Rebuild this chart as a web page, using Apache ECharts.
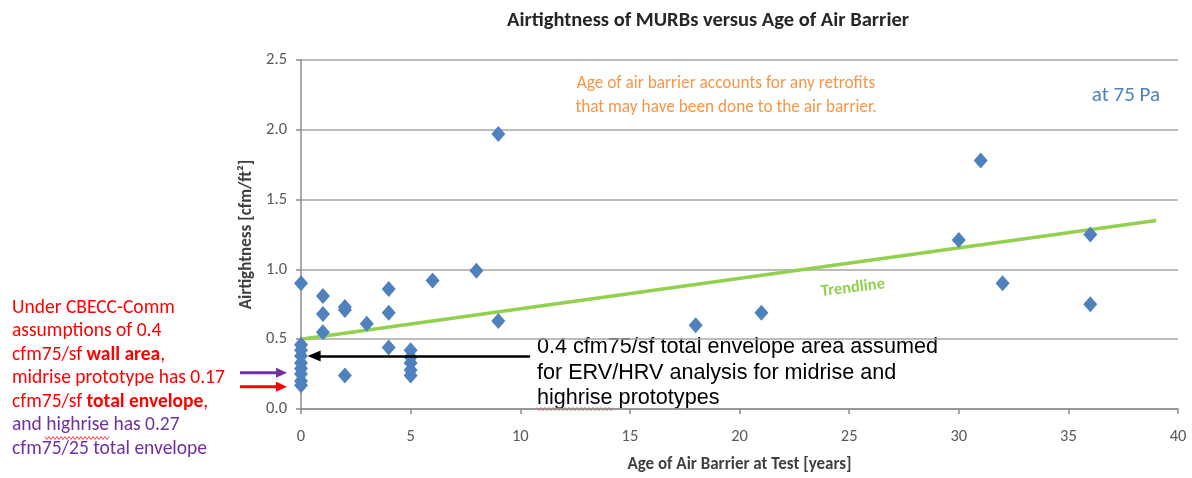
<!DOCTYPE html>
<html>
<head>
<meta charset="utf-8">
<script src="https://cdn.jsdelivr.net/npm/echarts@6/dist/echarts.min.js"></script>
<style>
  html, body { margin: 0; padding: 0; background: #fff; }
  #chart { width: 1192px; height: 478px; }
</style>
</head>
<body>
<div id="chart"></div>
<script>
// Age of air barrier at test [years] and measured airtightness [cfm/ft2] at 75 Pa
const ageYears = [
  0, 0, 0, 0, 0, 0, 0, 0, 0,
  1, 1, 1,
  2, 2, 2,
  3,
  4, 4, 4,
  5, 5, 5, 5, 5,
  6, 8, 9, 9,
  18, 21, 30, 31, 32, 36, 36
];
const airtightness = [
  0.90, 0.46, 0.42, 0.38, 0.33, 0.29, 0.25, 0.20, 0.17,
  0.81, 0.68, 0.55,
  0.73, 0.71, 0.24,
  0.61,
  0.86, 0.69, 0.44,
  0.42, 0.37, 0.33, 0.28, 0.24,
  0.92, 0.99, 1.97, 0.63,
  0.60, 0.69, 1.21, 1.78, 0.90, 1.25, 0.75
];

// linear trendline end points
const trendAge = [0, 39];
const trendValue = [0.50, 1.35];

// reference levels pointed at by the annotation arrows
const assumedEnvelope = 0.38;   // black arrow, ERV/HRV analysis
const highriseLevel = 0.26;     // purple arrow
const midriseLevel = 0.16;      // red arrow

const CALIBRI = "Carlito, Calibri, Lato, sans-serif";
const ARIAL = "'Liberation Sans', Arial, sans-serif";

const points = ageYears.map((a, i) => [a, airtightness[i]]);
const trend = trendAge.map((a, i) => [a, trendValue[i]]);

const chart = echarts.init(document.getElementById("chart"), null, { renderer: "canvas" });

const leftNote = [
  "{r|Under CBECC-Comm}",
  "{r|assumptions of 0.4}",
  "{r|cfm75/sf }{rb|wall area}{r|,}",
  "{r|midrise prototype has 0.17}",
  "{r|cfm75/sf }{rb|total envelope}{r|,}",
  "{p|and highrise has 0.27}",
  "{p|cfm75/25 total envelope}"
].join("\n");

const noteStyle = { fontFamily: CALIBRI, fontSize: 19.5, lineHeight: 23.5 };

// little spell-check squiggle under a word
function squiggle(id, x0, x1, y) {
  const pts = [];
  for (let x = x0, k = 0; x <= x1; x += 2, k++) pts.push([x, y + (k % 2 ? 1.5 : -1.5)]);
  return {
    type: "polyline", id: id, silent: true,
    shape: { points: pts },
    style: { stroke: "#ff4040", lineWidth: 1, fill: null }
  };
}

chart.setOption({
  animation: false,
  grid: { left: 301, right: 14, top: 60, bottom: 69 },
  xAxis: {
    type: "value",
    min: 0,
    max: 40,
    interval: 5,
    name: "Age of Air Barrier at Test [years]",
    nameLocation: "middle",
    nameGap: 47,
    nameTextStyle: { fontFamily: CALIBRI, fontSize: 17, fontWeight: "bold", color: "#404040" },
    axisLine: { show: true, lineStyle: { color: "#8c8c8c", width: 1.5 } },
    axisTick: { show: true, length: 5, lineStyle: { color: "#8c8c8c", width: 1.5 } },
    axisLabel: { margin: 19, fontFamily: CALIBRI, fontSize: 16.5, color: "#595959" },
    splitLine: { show: false }
  },
  yAxis: {
    type: "value",
    min: 0,
    max: 2.5,
    interval: 0.5,
    name: "Airtightness [cfm/ft\u00b2]",
    nameLocation: "middle",
    nameGap: 46,
    nameTextStyle: { fontFamily: CALIBRI, fontSize: 17, fontWeight: "bold", color: "#404040" },
    axisLine: { show: true, lineStyle: { color: "#8c8c8c", width: 1.5 } },
    axisTick: { show: true, length: 5, lineStyle: { color: "#8c8c8c", width: 1.5 } },
    axisLabel: {
      margin: 14,
      fontFamily: CALIBRI,
      fontSize: 16.5,
      color: "#595959",
      formatter: (v) => v.toFixed(1)
    },
    splitLine: { show: true, lineStyle: { color: "#a6a6a6", width: 1.5 } }
  },
  series: [
    {
      name: "Trendline",
      type: "line",
      data: trend,
      symbol: "none",
      lineStyle: { color: "#92d050", width: 3.5 },
      z: 2,
      markLine: {
        silent: true,
        symbol: ["none", "triangle"],
        symbolSize: [11, 13],
        label: { show: false },
        lineStyle: { color: "#000", width: 2.5, type: "solid" },
        data: [[{ coord: [10.45, assumedEnvelope] }, { coord: [0.6, assumedEnvelope] }]]
      }
    },
    {
      name: "Airtightness",
      type: "scatter",
      data: points,
      symbol: "diamond",
      symbolSize: [14, 16],
      itemStyle: { color: "#4f81bd", opacity: 1 },
      z: 3
    }
  ],
  graphic: [
    {
      type: "text", id: "title", x: 708, y: 21,
      style: {
        text: "Airtightness of MURBs versus Age of Air Barrier",
        fontFamily: CALIBRI, fontSize: 20.5, fontWeight: "bold", fill: "#262626",
        textAlign: "center", textVerticalAlign: "middle"
      }
    },
    {
      type: "text", id: "retrofitNote", x: 726, y: 96,
      style: {
        text: "Age of air barrier accounts for any retrofits\nthat may have been done to the air barrier.",
        fontFamily: CALIBRI, fontSize: 17.3, lineHeight: 24, fill: "#f79646",
        textAlign: "center", textVerticalAlign: "middle"
      }
    },
    {
      type: "text", id: "pressure", x: 1160, y: 96,
      style: {
        text: "at 75 Pa",
        fontFamily: CALIBRI, fontSize: 21, fill: "#4f81bd",
        textAlign: "right", textVerticalAlign: "middle"
      }
    },
    {
      type: "text", id: "trendLabel", x: 853, y: 288, rotation: 0.12,
      style: {
        text: "Trendline",
        fontFamily: CALIBRI, fontSize: 16.5, fontWeight: "bold", fill: "#92d050",
        textAlign: "center", textVerticalAlign: "middle"
      }
    },
    {
      type: "text", id: "ervNote", x: 537, y: 334,
      style: {
        text: "0.4 cfm75/sf total envelope area assumed\nfor ERV/HRV analysis for midrise and\nhighrise prototypes",
        fontFamily: ARIAL, fontSize: 21.6, lineHeight: 25.7, fill: "#000"
      }
    },
    {
      type: "text", id: "leftNote", x: 12, y: 296,
      style: {
        text: leftNote,
        rich: {
          r: Object.assign({ fill: "#ff0000" }, noteStyle),
          rb: Object.assign({ fill: "#ff0000", fontWeight: "bold" }, noteStyle),
          p: Object.assign({ fill: "#7030a0" }, noteStyle)
        }
      }
    },
    squiggle("sqLeft", 45, 109, 438),
    squiggle("sqErv", 537, 613, 409)
  ]
});

// arrows left of the y axis, placed from the axis scale
function sideArrow(id, level, color) {
  const p = chart.convertToPixel({ gridIndex: 0 }, [0, level]);
  const tipX = p[0] - 14;
  const startX = p[0] - 61;
  const y = p[1];
  return [
    {
      type: "line", id: id + "Shaft",
      shape: { x1: startX, y1: y, x2: tipX - 9, y2: y },
      style: { stroke: color, lineWidth: 3 }
    },
    {
      type: "polygon", id: id + "Head",
      shape: { points: [[tipX, y], [tipX - 11, y - 5], [tipX - 11, y + 5]] },
      style: { fill: color }
    }
  ];
}

chart.setOption({
  graphic: [].concat(
    sideArrow("purple", highriseLevel, "#7030a0"),
    sideArrow("red", midriseLevel, "#ff0000")
  )
});
</script>
</body>
</html>
